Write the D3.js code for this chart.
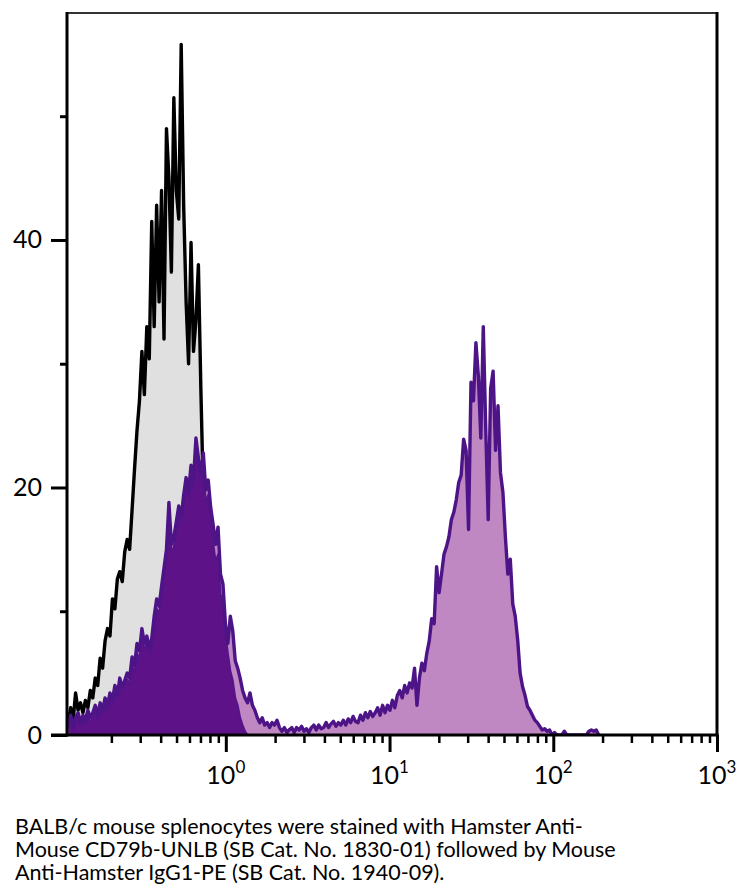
<!DOCTYPE html>
<html>
<head>
<meta charset="utf-8">
<script src="https://cdn.jsdelivr.net/npm/d3@7"></script>
<style>
  body { margin: 0; background: #fff; }
  svg { display: block; font-family: Lato, "Open Sans", sans-serif; }
</style>
</head>
<body>
<svg id="chart" width="744" height="896"></svg>
<script>
// histogram bins are evenly spaced in log10 units, first bin centre and bin width
var binLog0 = -0.9625;
var binWidth = 0.015;

// unstained control (grey fill, black line)
var unstained = [
  1.0, 2.2, 1.2, 3.4, 2.0, 2.6, 1.8, 2.8, 2.2, 3.6,
  3.0, 4.6, 4.0, 6.2, 5.4, 7.6, 8.6, 8.0, 11.0, 10.2,
  12.6, 13.2, 12.4, 14.8, 15.8, 15.0, 18.2, 21.5, 24.6, 27.0,
  31.0, 27.5, 33.0, 30.4, 41.5, 33.0, 42.8, 35.0, 44.0, 32.0,
  49.0, 45.0, 37.4, 51.5, 44.0, 41.7, 55.8, 42.8, 35.0, 30.0,
  39.8, 31.0, 33.5, 38.0, 28.0, 19.5, 12.0, 7.0, 4.5, 3.0,
  2.0, 1.4, 1.0, 0.8, 0.6, 0.4, 0.3, 0.2, 0.1, 0.1,
  0, 0.2, 0, 0.1, 0.3, 0, 0.2, 0.4, 0.1, 0,
  0.3, 0.2, 0.5, 0.1, 0.3, 0, 0.4, 0.2, 0.3, 0.1,
  0.4, 0, 0.2, 0.3, 0.1, 0.2, 0, 0.1, 0, 0.2, 0
];

// anti-CD79b + secondary PE (light purple fill, dark purple line)
var stained = [
  0.8, 1.6, 0.6, 1.4, 1.8, 1.0, 1.6, 1.2, 2.0, 1.4,
  1.8, 2.4, 1.6, 2.6, 2.0, 3.0, 2.4, 3.4, 2.8, 4.0,
  3.2, 4.6, 3.8, 4.4, 5.0, 4.6, 6.3, 5.6, 7.4, 6.8,
  8.6, 7.4, 8.0, 7.0, 7.8, 9.6, 11.0, 10.4, 12.0, 13.5,
  15.0, 18.8, 15.4, 16.0, 17.2, 18.5, 17.6, 19.4, 20.8, 19.6,
  21.8, 20.6, 24.0, 22.4, 21.0, 22.8, 19.8, 20.6, 18.4, 17.0,
  15.4, 16.8, 13.0, 12.2, 9.0, 7.4, 9.6, 8.4, 6.0, 5.4,
  4.6, 3.6, 3.0, 2.6, 3.4, 2.4, 2.0, 1.4, 1.0, 1.4,
  0.8, 1.0, 0.6, 1.0, 0.8, 1.2, 0.6, 0.3, 0.6, 0.2,
  0.4, 0.6, 0.2, 0.6, 0.4, 0.7, 0.3, 0.5, 0.2, 0.6,
  0.8, 0.4, 0.8, 0.5, 0.6, 1.0, 0.6, 0.9, 1.1, 0.7,
  1.0, 0.8, 1.2, 0.8, 1.3, 1.0, 1.5, 1.1, 1.0, 1.6,
  1.2, 1.8, 1.4, 1.9, 1.5, 1.8, 2.2, 1.6, 2.4, 1.8,
  2.4, 2.0, 2.8, 2.2, 3.2, 3.6, 3.0, 4.0, 3.4, 4.2,
  3.8, 5.4, 2.4, 4.6, 5.8, 5.2, 6.6, 7.6, 9.4, 9.0,
  13.6, 11.5, 13.0, 14.6, 15.2, 16.0, 17.4, 18.0, 19.0, 20.4,
  21.0, 23.9, 23.0, 16.6, 28.5, 27.0, 31.7, 29.0, 24.0, 33.0,
  24.8, 17.4, 28.0, 29.4, 23.0, 26.6, 21.2, 19.6, 16.0, 13.0,
  14.2, 10.6, 9.6, 7.7, 5.0, 3.9, 3.2, 2.3, 2.0, 1.6,
  1.2, 1.0, 0.7, 0.4, 0.5, 0.3, 0.4, 0, 0.2, 0,
  0, 0, 0.3, 0, 0, 0, 0, 0, 0, 0,
  0, 0, 0.3, 0.4, 0.3, 0.4, 0
];

// secondary only (dark purple fill)
var secondaryOnly = [
  0.5, 1.2, 0.4, 1.0, 1.4, 0.7, 1.2, 0.9, 1.6, 1.0,
  1.4, 2.0, 1.3, 2.2, 1.7, 2.6, 2.0, 3.0, 2.4, 3.5,
  2.8, 4.0, 3.4, 3.9, 4.5, 4.1, 5.6, 5.0, 6.6, 6.2,
  7.8, 6.9, 7.4, 6.5, 7.2, 8.8, 10.2, 9.8, 11.3, 12.8,
  14.2, 17.6, 14.8, 15.2, 16.5, 17.8, 17.0, 18.6, 20.0, 18.9,
  21.0, 19.8, 23.0, 21.6, 20.2, 21.8, 18.8, 19.4, 17.2, 15.6,
  14.0, 14.6, 11.4, 10.6, 8.2, 6.6, 5.2, 4.4, 3.0, 2.4,
  1.4, 0.8, 0.3, 0
];

var yMajor = [0, 20, 40];
var yMinor = [10, 30, 50];
var xMajor = [1, 10, 100, 1000];
var xMajorExp = ["0", "1", "2", "3"];
var xMinor = [0.2, 0.3, 0.4, 0.5, 0.6, 0.7, 0.8, 0.9,
              2, 3, 4, 5, 6, 7, 8, 9,
              20, 30, 40, 50, 60, 70, 80, 90,
              200, 300, 400, 500, 600, 700, 800, 900];

var caption = [
  "BALB/c mouse splenocytes were stained with Hamster Anti-",
  "Mouse CD79b-UNLB (SB Cat. No. 1830-01) followed by Mouse",
  "Anti-Hamster IgG1-PE (SB Cat. No. 1940-09)."
];

var plotLeft = 67, plotRight = 717, plotTop = 13, plotBottom = 735;

var svg = d3.select('#chart');

var x = d3.scaleLog()
    .domain([Math.pow(10, -0.97), 1000])
    .range([plotLeft, plotRight]);

var y = d3.scaleLinear()
    .domain([0, 58.34])
    .range([plotBottom, plotTop]);

function toPoints(counts) {
    return counts.map(function(c, i) {
        return { v: Math.pow(10, binLog0 + i * binWidth), c: c };
    });
}

var area = d3.area()
    .x(function(d) { return x(d.v); })
    .y0(y(0))
    .y1(function(d) { return y(d.c); });

var line = d3.line()
    .x(function(d) { return x(d.v); })
    .y(function(d) { return y(d.c); });

// keep the histograms inside the frame
svg.append('clipPath').attr('id', 'plot-clip')
    .append('rect')
    .attr('x', plotLeft).attr('y', plotTop)
    .attr('width', plotRight - plotLeft).attr('height', plotBottom - plotTop);

var plot = svg.append('g').attr('clip-path', 'url(#plot-clip)');

var pU = toPoints(unstained);
var pS = toPoints(stained);
var pC = toPoints(secondaryOnly);

// unstained
plot.append('path').datum(pU).attr('d', area).attr('fill', '#e0e0e0');
plot.append('path').datum(pU).attr('d', line)
    .attr('fill', 'none').attr('stroke', '#000')
    .attr('stroke-width', 3.4).attr('stroke-linejoin', 'round');

// stained
plot.append('path').datum(pS).attr('d', area).attr('fill', '#c088c2');

// secondary only
plot.append('path').datum(pC).attr('d', area).attr('fill', '#5e1288');
plot.append('path').datum(pC).attr('d', line)
    .attr('fill', 'none').attr('stroke', '#56148a')
    .attr('stroke-width', 2).attr('stroke-linejoin', 'round');

// stained outline on top
plot.append('path').datum(pS).attr('d', line)
    .attr('fill', 'none').attr('stroke', '#4d1488')
    .attr('stroke-width', 3.4).attr('stroke-linejoin', 'round');

// frame
svg.append('line').attr('x1', plotLeft).attr('x2', plotRight).attr('y1', plotTop).attr('y2', plotTop)
    .attr('stroke', '#333').attr('stroke-width', 2);
svg.append('line').attr('x1', plotRight).attr('x2', plotRight).attr('y1', plotTop - 1).attr('y2', plotBottom)
    .attr('stroke', '#000').attr('stroke-width', 3);

// x axis
svg.append('g')
    .attr('transform', 'translate(0,' + plotBottom + ')')
    .call(d3.axisBottom(x).tickValues(xMinor).tickSize(8).tickSizeOuter(0).tickFormat(''))
    .call(function(g) {
        g.select('.domain').remove();
        g.selectAll('.tick line').attr('stroke-width', 2.5);
    });

svg.append('g')
    .attr('transform', 'translate(0,' + plotBottom + ')')
    .call(d3.axisBottom(x).tickValues(xMajor).tickSize(17).tickSizeOuter(0).tickFormat(''))
    .call(function(g) {
        g.select('.domain').remove();
        g.selectAll('.tick line').attr('stroke-width', 3);
    });

var xl = svg.append('g').selectAll('text')
    .data(xMajor)
    .enter().append('text')
    .attr('x', function(d) { return x(d); })
    .attr('y', 784)
    .attr('text-anchor', 'middle')
    .attr('font-size', 25)
    .attr('fill', '#000');
xl.append('tspan').text('10');
xl.append('tspan')
    .attr('dy', -11)
    .attr('font-size', 17)
    .text(function(d, i) { return xMajorExp[i]; });

// y axis
svg.append('g')
    .attr('transform', 'translate(' + plotLeft + ',0)')
    .call(d3.axisLeft(y).tickValues(yMinor).tickSize(7).tickSizeOuter(0).tickFormat(''))
    .call(function(g) {
        g.select('.domain').remove();
        g.selectAll('.tick line').attr('stroke-width', 3);
    });

svg.append('g')
    .attr('transform', 'translate(' + plotLeft + ',0)')
    .call(d3.axisLeft(y).tickValues(yMajor).tickSize(16).tickSizeOuter(0).tickPadding(9))
    .call(function(g) {
        g.select('.domain').remove();
        g.selectAll('.tick line').attr('stroke-width', 3);
        g.selectAll('.tick text')
            .attr('font-family', 'Lato, sans-serif')
            .attr('font-size', 25)
            .attr('fill', '#000');
    });

// left and bottom axis lines
svg.append('line').attr('x1', plotLeft).attr('x2', plotLeft).attr('y1', plotTop - 1).attr('y2', plotBottom + 1.5)
    .attr('stroke', '#000').attr('stroke-width', 3);
svg.append('line').attr('x1', plotLeft - 16).attr('x2', plotRight + 1.5).attr('y1', plotBottom).attr('y2', plotBottom)
    .attr('stroke', '#000').attr('stroke-width', 3);

// caption
svg.append('g').selectAll('text')
    .data(caption)
    .enter().append('text')
    .attr('x', 15)
    .attr('y', function(d, i) { return 834 + i * 23; })
    .attr('font-size', 21.5)
    .attr('fill', '#000')
    .text(function(d) { return d; });
</script>
</body>
</html>
